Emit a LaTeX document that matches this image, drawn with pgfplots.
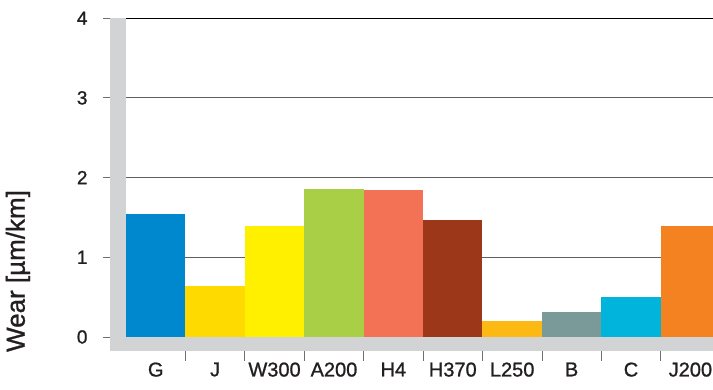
\documentclass[border=0pt]{standalone}
\usepackage{pgfplots}
\pgfplotsset{compat=1.18}
\usepackage{fontspec}
\setmainfont[FakeBold=1]{Liberation Sans}
\definecolor{cG}{HTML}{0088CE}
\definecolor{cJ}{HTML}{FFDA00}
\definecolor{cW}{HTML}{FFF000}
\definecolor{cA}{HTML}{A8CF45}
\definecolor{cH}{HTML}{F37155}
\definecolor{cHt}{HTML}{9C3819}
\definecolor{cL}{HTML}{FDB913}
\definecolor{cB}{HTML}{7A9A9A}
\definecolor{cC}{HTML}{00B4DC}
\definecolor{cJt}{HTML}{F58220}
\definecolor{wall}{HTML}{D1D3D4}
\definecolor{gridc}{HTML}{606060}
\definecolor{tickc}{HTML}{707070}
\definecolor{txt}{HTML}{231F20}
\begin{document}
\begin{tikzpicture}[x=1pt,y=1pt]
\useasboundingbox (0,0) rectangle (713,390);
\begin{axis}[
  at={(110pt,39pt)}, anchor=south west,
  scale only axis, width=603pt, height=336pt,
  xmin=-0.77, xmax=9.38, ymin=-0.1757, ymax=4.04,
  clip mode=individual,
  axis line style={draw=none},
  ytick={0,1,2,3,4},
  ytick pos=left, xtick pos=bottom,
  major tick length=0pt,
  tick style={draw=none},
  ymajorgrids,
  grid style={gridc, line width=0.9pt},
  xtick={0,...,9},
  xticklabels={G,J,W300,A200,H4,H370,L250,B,C,J200},
  xticklabel style={font=\fontsize{20}{22}\selectfont, text=txt, yshift=-8pt},
  yticklabel style={font=\fontsize{19}{21}\selectfont, text=txt, xshift=-19pt},
  /pgf/number format/assume math mode=true,
]
\addplot[ybar, bar width=1, bar shift=0pt, fill=cG, draw=none] coordinates {(0,1.54)};
\addplot[ybar, bar width=1, bar shift=0pt, fill=cJ, draw=none] coordinates {(1,0.64)};
\addplot[ybar, bar width=1, bar shift=0pt, fill=cW, draw=none] coordinates {(2,1.39)};
\addplot[ybar, bar width=1, bar shift=0pt, fill=cA, draw=none] coordinates {(3,1.86)};
\addplot[ybar, bar width=1, bar shift=0pt, fill=cH, draw=none] coordinates {(4,1.84)};
\addplot[ybar, bar width=1, bar shift=0pt, fill=cHt, draw=none] coordinates {(5,1.47)};
\addplot[ybar, bar width=1, bar shift=0pt, fill=cL, draw=none] coordinates {(6,0.20)};
\addplot[ybar, bar width=1, bar shift=0pt, fill=cB, draw=none] coordinates {(7,0.31)};
\addplot[ybar, bar width=1, bar shift=0pt, fill=cC, draw=none] coordinates {(8,0.50)};
\addplot[ybar, bar width=1, bar shift=0pt, fill=cJt, draw=none] coordinates {(9,1.39)};
\fill[wall] (axis cs:-0.77,-0.1757) rectangle (axis cs:9.38,0);
\fill[wall] (axis cs:-0.77,-0.1757) rectangle (axis cs:-0.5,4);
\draw[black, line width=1.3pt] (axis cs:-0.5,4) -- (axis cs:9.38,4);
\foreach \b in {0.5,1.5,...,8.5} {
  \edef\tmp{\noexpand\draw[tickc, line width=0.8pt] (axis cs:\b,-0.1757) -- ([yshift=-10pt]axis cs:\b,-0.1757);}\tmp
}
\draw[tickc, line width=0.9pt] ([xshift=-7pt]axis cs:-0.77,0) -- (axis cs:-0.77,0);
\draw[tickc, line width=0.9pt] ([xshift=-7pt]axis cs:-0.77,1) -- (axis cs:-0.77,1);
\draw[tickc, line width=0.9pt] ([xshift=-7pt]axis cs:-0.77,2) -- (axis cs:-0.77,2);
\draw[tickc, line width=0.9pt] ([xshift=-7pt]axis cs:-0.77,3) -- (axis cs:-0.77,3);
\draw[tickc, line width=0.9pt] ([xshift=-7pt]axis cs:-0.77,4) -- (axis cs:-0.77,4);
\end{axis}
\node[rotate=90, font=\fontsize{26}{28}\selectfont, text=txt] at (18,119) {Wear [µm/km]};
\end{tikzpicture}
\end{document}
